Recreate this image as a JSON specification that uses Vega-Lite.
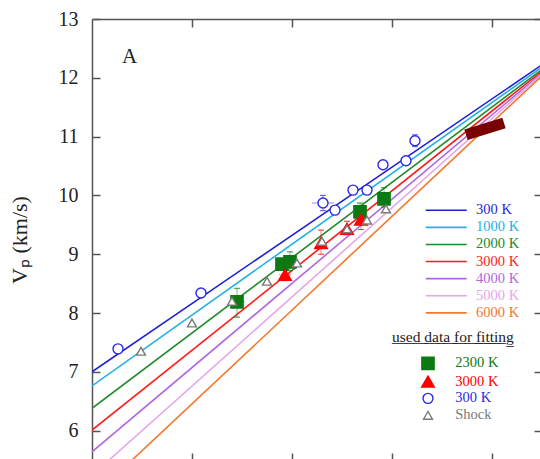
{
  "$schema": "https://vega.github.io/schema/vega-lite/v6.json",
  "width": 449,
  "height": 441,
  "autosize": "none",
  "padding": {"left": 92, "top": 19, "right": 0, "bottom": 0},
  "background": "white",
  "config": {
    "font": "Liberation Serif",
    "view": {"stroke": null},
    "style": {
      "guide-label": {"font": "Liberation Serif"},
      "guide-title": {"font": "Liberation Serif"}
    },
    "axis": {
      "grid": false,
      "domainColor": "#555555",
      "domainWidth": 1.5,
      "tickColor": "#555555",
      "tickWidth": 1.5,
      "labelFont": "Liberation Serif",
      "labelColor": "#222222",
      "titleFont": "Liberation Serif",
      "titleColor": "#222222",
      "titleFontWeight": "normal"
    },
    "legend": {
      "orient": "none", "legendX": 300, "legendY": 311, "padding": 0,
      "labelFont": "Liberation Serif", "titleFont": "Liberation Serif",
      "titleFontSize": 15.5, "titleFontWeight": "normal", "titleColor": "#222222", "titlePadding": 10.6,
      "symbolOffset": 28.5, "labelOffset": 19.8, "labelFontSize": 14.5, "rowPadding": 0, "symbolStrokeWidth": 1.4, "symbolOpacity": 1
    },
    "text": {"font": "Liberation Serif"}
  },
  "title": {
    "text": "A",
    "anchor": "start",
    "frame": "group",
    "font": "Liberation Serif",
    "fontSize": 21,
    "fontWeight": "normal",
    "color": "#222222",
    "offset": 0,
    "baseline": "alphabetic",
    "dx": 30,
    "dy": 75
  },
  "datasets": {
    "lines": [
      {"x": 3.0, "v": 7.00, "T": "300 K"}, {"x": 5.245, "v": 12.21, "T": "300 K"},
      {"x": 3.0, "v": 6.76, "T": "1000 K"}, {"x": 5.245, "v": 12.17, "T": "1000 K"},
      {"x": 3.0, "v": 6.38, "T": "2000 K"}, {"x": 5.245, "v": 12.13, "T": "2000 K"},
      {"x": 3.0, "v": 6.01, "T": "3000 K"}, {"x": 5.245, "v": 12.10, "T": "3000 K"},
      {"x": 3.0, "v": 5.64, "T": "4000 K"}, {"x": 5.245, "v": 12.07, "T": "4000 K"},
      {"x": 3.0, "v": 5.24, "T": "5000 K"}, {"x": 5.245, "v": 12.05, "T": "5000 K"},
      {"x": 3.0, "v": 4.86, "T": "6000 K"}, {"x": 5.245, "v": 12.02, "T": "6000 K"}
    ],
    "band": [
      {"x": 4.87, "v": 11.03}, {"x": 5.06, "v": 11.23}
    ],
    "pts": [
      {"series": "300 K", "x": 3.13, "v": 7.39},
      {"series": "300 K", "x": 3.545, "v": 8.34},
      {"series": "300 K", "x": 4.155, "v": 9.87, "ylo": 9.74, "yhi": 10.0, "xlo": 4.10, "xhi": 4.21},
      {"series": "300 K", "x": 4.215, "v": 9.75},
      {"series": "300 K", "x": 4.305, "v": 10.09},
      {"series": "300 K", "x": 4.375, "v": 10.09},
      {"series": "300 K", "x": 4.455, "v": 10.52},
      {"series": "300 K", "x": 4.57, "v": 10.59},
      {"series": "300 K", "x": 4.615, "v": 10.93, "ylo": 10.83, "yhi": 11.03},
      {"series": "2300 K", "x": 3.725, "v": 8.19, "ylo": 7.93, "yhi": 8.42, "xlo": 3.69, "xhi": 3.765},
      {"series": "2300 K", "x": 3.95, "v": 8.83},
      {"series": "2300 K", "x": 3.99, "v": 8.87, "ylo": 8.72, "yhi": 9.04},
      {"series": "2300 K", "x": 4.34, "v": 9.72, "ylo": 9.6, "yhi": 9.87},
      {"series": "2300 K", "x": 4.46, "v": 9.94, "ylo": 9.8, "yhi": 10.13},
      {"series": "3000 K", "x": 3.965, "v": 8.65, "ylo": 8.55, "yhi": 8.75, "xlo": 3.935, "xhi": 3.995},
      {"series": "3000 K", "x": 4.145, "v": 9.19, "ylo": 9.0, "yhi": 9.41},
      {"series": "3000 K", "x": 4.275, "v": 9.43, "ylo": 9.33, "yhi": 9.56},
      {"series": "3000 K", "x": 4.345, "v": 9.59, "ylo": 9.42, "yhi": 9.75},
      {"series": "Shock", "x": 3.245, "v": 7.35},
      {"series": "Shock", "x": 3.50, "v": 7.83},
      {"series": "Shock", "x": 3.70, "v": 8.20},
      {"series": "Shock", "x": 3.875, "v": 8.54},
      {"series": "Shock", "x": 4.025, "v": 8.85},
      {"series": "Shock", "x": 4.15, "v": 9.22},
      {"series": "Shock", "x": 4.275, "v": 9.43},
      {"series": "Shock", "x": 4.375, "v": 9.58},
      {"series": "Shock", "x": 4.47, "v": 9.77}
    ]
  },
  "layer": [
    {
      "data": {"name": "lines"},
      "mark": {"type": "line", "strokeWidth": 1.6, "clip": true},
      "encoding": {
        "x": {
          "field": "x", "type": "quantitative",
          "scale": {"domain": [3.0, 5.245], "nice": false, "zero": false},
          "axis": {"orient": "bottom", "values": [3.5, 4.0, 4.5, 5.0], "labels": false, "title": null, "tickSize": -7}
        },
        "y": {
          "field": "v", "type": "quantitative",
          "scale": {"domain": [5.5, 13], "nice": false, "zero": false},
          "axis": {
            "orient": "left", "values": [6, 7, 8, 9, 10, 11, 12, 13], "tickSize": -8,
            "labelFont": "Liberation Serif", "labelFontSize": 20, "labelPadding": 22, "format": "d",
            "title": "Vₚ (km/s)", "titleFont": "Liberation Serif", "titleFontSize": 22, "titlePadding": 27
          }
        },
        "color": {
          "field": "T", "type": "nominal",
          "scale": {
            "domain": ["300 K", "1000 K", "2000 K", "3000 K", "4000 K", "5000 K", "6000 K"],
            "range": ["#1f1fd6", "#22b0e6", "#208a2a", "#ff1a1a", "#b266e0", "#e6a6ec", "#f07a2e"]
          },
          "legend": {
            "orient": "none", "legendX": 347, "legendY": 184, "title": null, "padding": 0,
            "symbolType": "M-4.1,0H4.1", "symbolSize": 100, "symbolStrokeWidth": 1.6, "symbolOffset": 0,
            "labelOffset": 22.5, "labelFont": "Liberation Serif", "labelFontSize": 14.5, "rowPadding": 2.1,
            "encode": {"labels": {"update": {"fill": {"signal": "scale('color', datum.value)"}}}}
          }
        }
      }
    },
    {
      "data": {"name": "band"},
      "mark": {"type": "line", "strokeWidth": 11, "strokeCap": "butt", "color": "#780000"},
      "encoding": {
        "x": {"field": "x", "type": "quantitative", "axis": null},
        "y": {"field": "v", "type": "quantitative", "axis": null}
      }
    },
    {
      "data": {"name": "pts"},
      "transform": [{"filter": "isValid(datum.ylo)"}],
      "mark": {"type": "rule", "strokeWidth": 1, "opacity": 0.5},
      "encoding": {
        "x": {"field": "x", "type": "quantitative", "axis": null},
        "y": {"field": "ylo", "type": "quantitative", "axis": null},
        "y2": {"field": "yhi"},
        "stroke": {
          "field": "series", "type": "nominal", "title": "u̲s̲e̲d̲ ̲d̲a̲t̲a̲ ̲f̲o̲r̲ ̲f̲i̲t̲t̲i̲n̲g̲",
          "scale": {"domain": ["2300 K", "3000 K", "300 K", "Shock"], "range": ["#0b7a12", "#ff0000", "#2a2ae6", "#7a7a7a"]},
          "legend": {"encode": {"labels": {"update": {"fill": {"signal": "scale('stroke', datum.value)"}}}}}
        }
      }
    },
    {
      "data": {"name": "pts"},
      "transform": [{"filter": "isValid(datum.ylo)"}],
      "mark": {"type": "tick", "orient": "horizontal", "size": 6, "thickness": 0.01, "filled": false, "strokeWidth": 1, "opacity": 0.5},
      "encoding": {
        "x": {"field": "x", "type": "quantitative", "axis": null},
        "y": {"field": "ylo", "type": "quantitative", "axis": null},
        "stroke": {
          "field": "series", "type": "nominal", "title": "u̲s̲e̲d̲ ̲d̲a̲t̲a̲ ̲f̲o̲r̲ ̲f̲i̲t̲t̲i̲n̲g̲",
          "scale": {"domain": ["2300 K", "3000 K", "300 K", "Shock"], "range": ["#0b7a12", "#ff0000", "#2a2ae6", "#7a7a7a"]},
          "legend": {"encode": {"labels": {"update": {"fill": {"signal": "scale('stroke', datum.value)"}}}}}
        }
      }
    },
    {
      "data": {"name": "pts"},
      "transform": [{"filter": "isValid(datum.yhi)"}],
      "mark": {"type": "tick", "orient": "horizontal", "size": 6, "thickness": 0.01, "filled": false, "strokeWidth": 1, "opacity": 0.5},
      "encoding": {
        "x": {"field": "x", "type": "quantitative", "axis": null},
        "y": {"field": "yhi", "type": "quantitative", "axis": null},
        "stroke": {
          "field": "series", "type": "nominal", "title": "u̲s̲e̲d̲ ̲d̲a̲t̲a̲ ̲f̲o̲r̲ ̲f̲i̲t̲t̲i̲n̲g̲",
          "scale": {"domain": ["2300 K", "3000 K", "300 K", "Shock"], "range": ["#0b7a12", "#ff0000", "#2a2ae6", "#7a7a7a"]},
          "legend": {"encode": {"labels": {"update": {"fill": {"signal": "scale('stroke', datum.value)"}}}}}
        }
      }
    },
    {
      "data": {"name": "pts"},
      "transform": [{"filter": "isValid(datum.xlo)"}],
      "mark": {"type": "rule", "strokeWidth": 1, "opacity": 0.5},
      "encoding": {
        "x": {"field": "xlo", "type": "quantitative", "axis": null},
        "x2": {"field": "xhi"},
        "y": {"field": "v", "type": "quantitative", "axis": null},
        "stroke": {
          "field": "series", "type": "nominal", "title": "u̲s̲e̲d̲ ̲d̲a̲t̲a̲ ̲f̲o̲r̲ ̲f̲i̲t̲t̲i̲n̲g̲",
          "scale": {"domain": ["2300 K", "3000 K", "300 K", "Shock"], "range": ["#0b7a12", "#ff0000", "#2a2ae6", "#7a7a7a"]},
          "legend": {"encode": {"labels": {"update": {"fill": {"signal": "scale('stroke', datum.value)"}}}}}
        }
      }
    },
    {
      "data": {"name": "pts"},
      "mark": {"type": "point", "strokeWidth": 1.4, "opacity": 1},
      "encoding": {
        "x": {
          "field": "x", "type": "quantitative",
          "axis": {"orient": "top", "values": [3.5, 4.0, 4.5, 5.0], "labels": false, "title": null, "tickSize": -8}
        },
        "y": {
          "field": "v", "type": "quantitative",
          "axis": {"orient": "right", "values": [6, 7, 8, 9, 10, 11, 12, 13], "labels": false, "title": null, "tickSize": -7}
        },
        "shape": {
          "field": "series", "type": "nominal", "title": "u̲s̲e̲d̲ ̲d̲a̲t̲a̲ ̲f̲o̲r̲ ̲f̲i̲t̲t̲i̲n̲g̲",
          "scale": {"domain": ["2300 K", "3000 K", "300 K", "Shock"], "range": ["square", "triangle-up", "circle", "triangle-up"]},
          "legend": {"encode": {"labels": {"update": {"fill": {"signal": "scale('stroke', datum.value)"}}}}}
        },
        "fill": {
          "field": "series", "type": "nominal", "title": "u̲s̲e̲d̲ ̲d̲a̲t̲a̲ ̲f̲o̲r̲ ̲f̲i̲t̲t̲i̲n̲g̲",
          "scale": {"domain": ["2300 K", "3000 K", "300 K", "Shock"], "range": ["#0b7a12", "#ff0000", "#ffffff", "#ffffff"]},
          "legend": {"encode": {"labels": {"update": {"fill": {"signal": "scale('stroke', datum.value)"}}}}}
        },
        "stroke": {
          "field": "series", "type": "nominal", "title": "u̲s̲e̲d̲ ̲d̲a̲t̲a̲ ̲f̲o̲r̲ ̲f̲i̲t̲t̲i̲n̲g̲",
          "scale": {"domain": ["2300 K", "3000 K", "300 K", "Shock"], "range": ["#0b7a12", "#ff0000", "#2a2ae6", "#7a7a7a"]},
          "legend": {"encode": {"labels": {"update": {"fill": {"signal": "scale('stroke', datum.value)"}}}}}
        },
        "size": {
          "field": "series", "type": "nominal", "title": "u̲s̲e̲d̲ ̲d̲a̲t̲a̲ ̲f̲o̲r̲ ̲f̲i̲t̲t̲i̲n̲g̲",
          "scale": {"type": "ordinal", "domain": ["2300 K", "3000 K", "300 K", "Shock"], "range": [150, 160, 100, 80]},
          "legend": {"encode": {"labels": {"update": {"fill": {"signal": "scale('stroke', datum.value)"}}}}}
        }
      }
    }
  ],
  "resolve": {"axis": {"x": "independent", "y": "independent"}}
}
